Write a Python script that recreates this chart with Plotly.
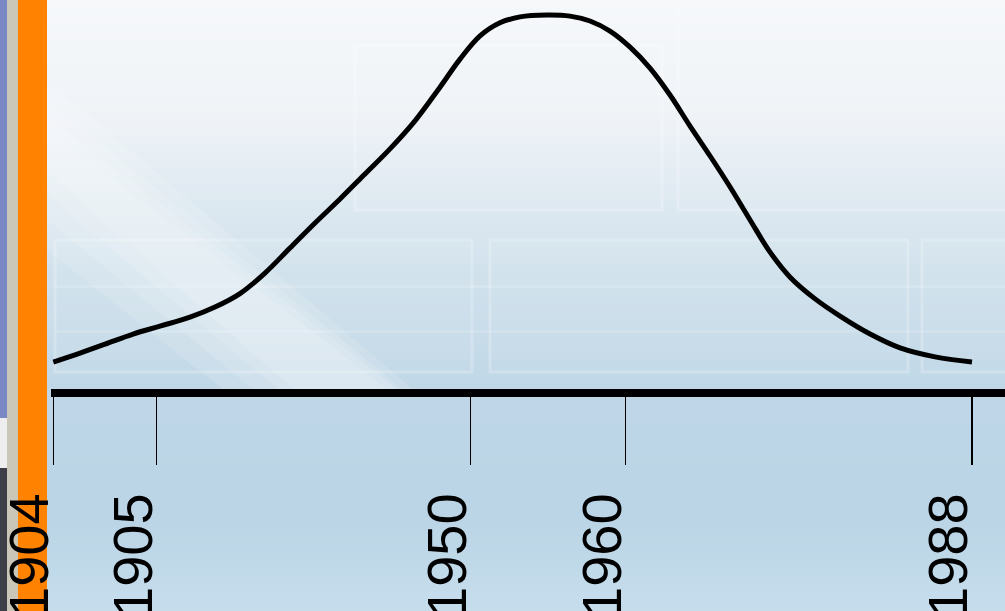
import plotly.graph_objects as go

# ---- data (position along the timeline, 1904 tick = 0, 1988 tick = 100) ----
curve_pos = [0, 2.91, 5.64, 8.69, 11.61, 14.88, 17.60, 20.32, 23.04, 25.76, 28.49, 31.21,
             33.93, 36.65, 39.37, 42.09, 44.27, 46.45, 48.62, 50.80, 53.74, 56.24, 58.42,
             60.60, 62.78, 64.95, 67.13, 69.31, 71.49, 73.67, 75.84, 78.02, 80.20, 82.92,
             85.64, 88.91, 92.17, 95.98, 100]
curve_level = [7.2, 9.6, 12.0, 14.7, 16.8, 19.2, 21.9, 25.5, 31.0, 37.7, 44.4, 50.8,
               57.5, 64.2, 71.7, 80.7, 88.2, 94.4, 97.9, 99.5, 100, 99.7, 98.4,
               95.7, 91.4, 85.8, 78.6, 70.3, 62.3, 54.0, 45.2, 36.6, 29.9, 24.1,
               19.5, 14.7, 11.0, 8.6, 7.2]
tick_pos = [0, 11.25, 45.4, 62.3, 100]
tick_labels = ["1904", "1905", "1950", "1960", "1988"]

# ---- layout geometry ----
W, H = 1005, 611
ML, MB = 51, 222
PH = H - MB          # plot height in px
PW = W - ML
XS = 9.187           # px per timeline unit
YS = 3.74            # px per level unit


def px2x(px):
    return (px - ML) / PW


def py2y(py):
    return (PH - py) / PH


def lerp_color(stops, py):
    for (p0, c0), (p1, c1) in zip(stops, stops[1:]):
        if p0 <= py <= p1:
            t = (py - p0) / (p1 - p0)
            return "rgb(%d,%d,%d)" % tuple(round(a + (b - a) * t) for a, b in zip(c0, c1))
    return "rgb(%d,%d,%d)" % stops[-1][1]


bg_stops = [(0, (246, 248, 250)), (120, (239, 243, 247)), (200, (222, 233, 241)),
            (300, (205, 223, 235)), (400, (190, 214, 231)), (520, (187, 213, 230)),
            (611, (198, 221, 236))]

shapes = []
step = 8
for py in range(0, H, step):
    shapes.append(dict(type="rect", xref="paper", yref="paper", layer="below",
                       x0=px2x(0), x1=px2x(W), y0=py2y(py + step + 1), y1=py2y(py),
                       line=dict(width=0), fillcolor=lerp_color(bg_stops, py + step / 2)))


def path(points):
    return "M " + " L ".join("%f,%f" % (px2x(a), py2y(b)) for a, b in points) + " Z"


def rect(x0, y0, x1, y1, color, line=None):
    shapes.append(dict(type="rect", xref="paper", yref="paper", layer="below",
                       x0=px2x(x0), x1=px2x(x1), y0=py2y(y1), y1=py2y(y0),
                       line=line or dict(width=0), fillcolor=color))


# faint panel outlines in the backdrop
panel_line = dict(color="rgba(255,255,255,0.22)", width=3)
for box in [(355, 45, 662, 210), (678, -5, 1010, 210), (55, 240, 472, 372),
            (490, 240, 908, 372), (922, 240, 1010, 372)]:
    rect(*box, "rgba(255,255,255,0.04)", panel_line)
for yy in (285, 330):
    rect(55, yy, 1005, yy + 3, "rgba(255,255,255,0.15)")

# soft diagonal light band (several faint nested layers)
for a, b, c, d in [(80, 250, 230, 400), (100, 220, 260, 390),
                   (115, 195, 285, 385), (128, 172, 300, 375)]:
    shapes.append(dict(type="path", xref="paper", yref="paper", layer="below",
                       path=path([(47, a), (47, b), (c, 395), (d + 20, 395)]),
                       fillcolor="rgba(255,255,255,0.13)", line=dict(width=0)))

# left strip (neighbouring window) and orange bar
rect(0, 0, 7, 418, "#7b88c6")
rect(0, 418, 7, 468, "#eeeeee")
rect(0, 468, 7, H, "#3e3e48")
rect(7, 0, 18, H, "#cbc7b8")
rect(18, 0, 47, H, "#ff8200")

fig = go.Figure()
fig.add_trace(go.Scatter(x=curve_pos, y=curve_level, mode="lines",
                         line=dict(color="black", width=5, shape="spline", smoothing=1.0),
                         hoverinfo="skip", showlegend=False))

fig.update_layout(
    width=W, height=H,
    margin=dict(l=ML, r=0, t=0, b=MB, pad=0, autoexpand=False),
    paper_bgcolor="#c8dcea",
    plot_bgcolor="rgba(0,0,0,0)",
    shapes=shapes,
    showlegend=False,
    xaxis=dict(range=[-2.3 / XS, (W - 53.3) / XS], showgrid=False, zeroline=False,
               automargin=False,
               showline=True, linewidth=8, linecolor="black",
               ticks="outside", ticklen=68, tickwidth=1.6, tickcolor="black",
               tickmode="array", tickvals=tick_pos, ticktext=tick_labels,
               tickangle=-90, ticklabelshift=-23, ticklabelstandoff=6,
               ticklabeloverflow="allow",
               tickfont=dict(family="Liberation Sans, Arial", size=56, color="black"),
               fixedrange=True),
    yaxis=dict(range=[0, PH / YS], visible=False, fixedrange=True, automargin=False),
)

fig.write_html("out.html", config=dict(displayModeBar=False, staticPlot=True),
               post_script="document.body.style.margin='0px';document.body.style.overflow='hidden';")
